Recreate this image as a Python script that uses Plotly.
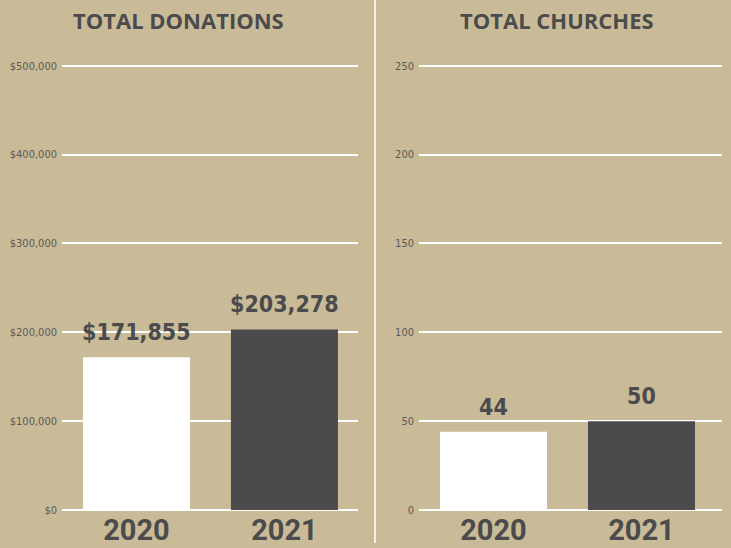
import plotly.graph_objects as go

years = ["2020", "2021"]
donations = [171855, 203278]
churches = [44, 50]
bar_colors = ["#ffffff", "#4b4b4d"]
titles = ["TOTAL DONATIONS", "TOTAL CHURCHES"]

BG = "#c9bb97"
TXT = "#4b4b4d"
W, H = 731, 548
COND = "DejaVu Sans Condensed"

label_font = dict(family=COND, size=23, color=TXT, weight="bold")

fig = go.Figure()
fig.add_trace(go.Bar(
    x=years, y=donations, marker=dict(color=bar_colors, line=dict(width=0)),
    width=0.723, xaxis="x", yaxis="y", hoverinfo="skip"))
fig.add_trace(go.Bar(
    x=years, y=churches, marker=dict(color=bar_colors, line=dict(width=0)),
    width=0.723, xaxis="x2", yaxis="y2", hoverinfo="skip"))

annotations = []
for i, v in enumerate(donations):
    annotations.append(dict(x=i, y=v, xref="x", yref="y", text=f"${v:,}",
                            showarrow=False, yanchor="bottom", yshift=10, font=label_font))
for i, v in enumerate(churches):
    annotations.append(dict(x=i, y=v, xref="x2", yref="y2", text=str(v),
                            showarrow=False, yanchor="bottom", yshift=10, font=label_font))
for i, t in enumerate(titles):
    annotations.append(dict(text=t, x=[178, 557][i] / W, y=1 + (64 - 20) / 446,
                            xref="paper", yref="paper", showarrow=False,
                            xanchor="center", yanchor="middle",
                            font=dict(family="Open Sans", size=22, color=TXT, weight="bold")))

tickfont_y = dict(family=COND, size=11, color="#5a5a5a")
tickfont_x = dict(family="Roboto", size=29, color=TXT, weight="bold")

fig.update_layout(
    width=W, height=H, paper_bgcolor=BG, plot_bgcolor=BG,
    margin=dict(l=0, r=0, t=64, b=38), showlegend=False,
    xaxis=dict(type="category", domain=[62 / W, 358 / W], range=[-0.503, 1.497],
               tickfont=tickfont_x, showgrid=False, zeroline=False, showline=False,
               ticks="", anchor="y", ticklabelstandoff=0),
    yaxis=dict(range=[0, 502000], tick0=0, dtick=100000, tickprefix="$", tickformat=",",
               tickfont=tickfont_y, gridcolor="#ffffff", gridwidth=1.5,
               zeroline=True, zerolinecolor="#ffffff", zerolinewidth=1.5,
               showline=False, ticks="", anchor="x", ticklabelstandoff=4),
    xaxis2=dict(type="category", domain=[419 / W, 722 / W], range=[-0.503, 1.544],
                tickfont=tickfont_x, showgrid=False, zeroline=False, showline=False,
                ticks="", anchor="y2", ticklabelstandoff=0),
    yaxis2=dict(range=[0, 251], tick0=0, dtick=50, tickfont=tickfont_y,
                gridcolor="#ffffff", gridwidth=1.5, zeroline=True,
                zerolinecolor="#ffffff", zerolinewidth=1.5, showline=False,
                ticks="", anchor="x2", ticklabelstandoff=4),
    shapes=[dict(type="line", xref="paper", yref="paper", x0=375 / W, x1=375 / W,
                 y0=(510 - 543) / 446, y1=1 + 64 / 446,
                 line=dict(color="#ffffff", width=1.5))],
    annotations=annotations,
)

fig.write_html("out.html", config={"displayModeBar": False},
               post_script="document.body.style.margin='0';document.body.style.overflow='hidden';")
